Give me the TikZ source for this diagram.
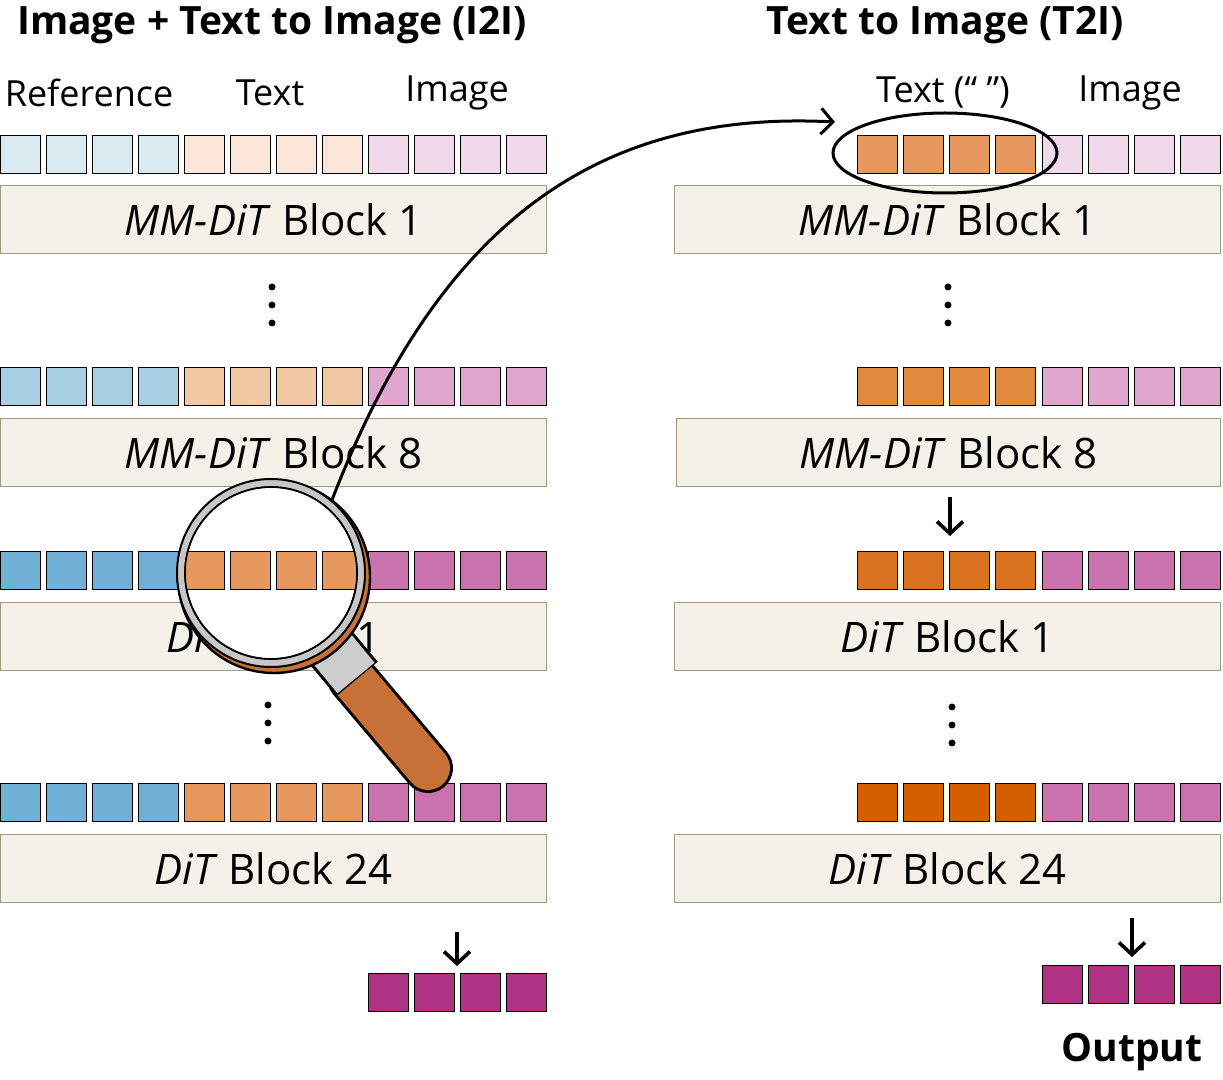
\documentclass[tikz,border=0pt]{standalone}
\usepackage{fontspec}
\setmainfont{Open Sans}
\usetikzlibrary{arrows.meta}

\definecolor{blueA}{HTML}{DAEAF1}
\definecolor{blueB}{HTML}{A8CEE3}
\definecolor{blueC}{HTML}{6FB0D4}
\definecolor{orgA}{HTML}{FAE5D8}
\definecolor{orgB}{HTML}{F1C7A4}
\definecolor{orgC}{HTML}{E6985E}
\definecolor{orgD}{HTML}{E0893F}
\definecolor{orgE}{HTML}{D9711F}
\definecolor{orgF}{HTML}{D45F00}
\definecolor{pinkA}{HTML}{F0D9EB}
\definecolor{pinkB}{HTML}{E0A6CE}
\definecolor{pinkC}{HTML}{CA72AE}
\definecolor{outc}{HTML}{AF3382}
\definecolor{blockfill}{HTML}{F3F1E8}
\definecolor{blockline}{HTML}{A09A80}
\definecolor{handle}{HTML}{C87137}

\tikzset{
  tok/.style={draw=black,line width=0.6pt,minimum width=20pt,minimum height=19pt,inner sep=0pt,anchor=north west},
  block/.style={draw=blockline,fill=blockfill,line width=0.6pt,minimum width=273pt,minimum height=34pt,inner sep=0pt,anchor=north west,font=\fontsize{21}{25}\selectfont},
  head/.style={font=\fontsize{19.5}{23}\selectfont\bfseries},
  lab/.style={font=\fontsize{18}{21}\selectfont},
  dot/.style={fill=black,circle,inner sep=0pt,minimum size=3.5pt},
  down/.style={-{Straight Barb[length=6pt,width=13pt]},line width=1.8pt}
}

\begin{document}
\begin{tikzpicture}[x=0.5pt,y=-0.5pt]
\useasboundingbox (0,0) rectangle (1223,1080);

% Headers and labels
\node[head] (hl) at (272,25) {Image + Text to Image (I2I)};
\node[head] (hr) at (945,25) {Text to Image (T2I)};
\node[lab] (lref) at (89,93) {Reference};
\node[lab] (ltxt) at (270,93) {Text};
\node[lab] (limg) at (457,93) {Image};
\node[lab] (rtxt) at (943,93) {Text (“ ”)};
\node[lab] (rimg) at (1130,93) {Image};

% Left token rows
\foreach \r/\y/\cb/\co/\cp in {1/135/blueA/orgA/pinkA,2/367/blueB/orgB/pinkB,3/551/blueC/orgC/pinkC,4/783/blueC/orgC/pinkC}{
  \foreach \i in {0,...,3}{
    \node[tok,fill=\cb] (lb\r\i) at ({46*\i},\y) {};
    \node[tok,fill=\co] (lo\r\i) at ({184+46*\i},\y) {};
    \node[tok,fill=\cp] (lp\r\i) at ({368+46*\i},\y) {};
  }
}
% Right token rows
\foreach \r/\y/\co/\cp in {1/135/orgC/pinkA,2/367/orgD/pinkB,3/551/orgE/pinkC,4/783/orgF/pinkC}{
  \foreach \i in {0,...,3}{
    \node[tok,fill=\co] (ro\r\i) at ({857+46*\i},\y) {};
    \node[tok,fill=\cp] (rp\r\i) at ({1042+46*\i},\y) {};
  }
}
% Outputs
\foreach \i in {0,...,3}{
  \node[tok,fill=outc] (lout\i) at ({368+46*\i},973) {};
  \node[tok,fill=outc] (rout\i) at ({1042+46*\i},965) {};
}

% Blocks
\node[block] (lblk1) at (0,185) {\textit{MM-DiT} Block 1};
\node[block] (lblk2) at (0,418) {\textit{MM-DiT} Block 8};
\node[block] (lblk3) at (0,602) {\textit{DiT} Block 1};
\node[block] (lblk4) at (0,834) {\textit{DiT} Block 24};
\node[block] (rblk1) at (674,185) {\textit{MM-DiT} Block 1};
\node[block,minimum width=272pt] (rblk2) at (676,418) {\textit{MM-DiT} Block 8};
\node[block] (rblk3) at (674,602) {\textit{DiT} Block 1};
\node[block] (rblk4) at (674,834) {\textit{DiT} Block 24};

% Dots
\foreach \x/\y in {272/287,268/705,948/287,952/707}{
  \foreach \k in {0,1,2}{
    \node[dot] at (\x,{\y+18*\k}) {};
  }
}

% Down arrows
\coordinate (ra1) at (950,497);
\coordinate (ra1e) at (950,536);
\coordinate (la2) at (457,932);
\coordinate (la2e) at (457,966);
\coordinate (ra2) at (1132,918);
\coordinate (ra2e) at (1132,957);
\draw[down] (ra1) -- (ra1e);
\draw[down] (la2) -- (la2e);
\draw[down] (ra2) -- (ra2e);

% Ellipse round text tokens
\draw[line width=1.5pt] (945,153) ellipse [x radius=56pt,y radius=20pt];

% Curve from lens
\coordinate (cs) at (332,500);
\coordinate (ce) at (835,122);
\draw[-{Straight Barb[length=6pt,width=13pt]},line width=1.5pt] (cs) .. controls (440,220) and (600,110) .. (ce);

% Magnifier
\draw[line width=25pt,line cap=round] (352,678) -- (428,768);
\draw[line width=22pt,line cap=round,handle] (352,678) -- (428,768);
\draw[line width=27pt,black] (327,643) -- (357,679);
\draw[line width=24pt,black!20] (328,644) -- (356,678);
\draw[line width=1.2pt,fill=handle] (274,577) circle [radius=48pt];
\draw[line width=1pt,fill=black!22] (271,573) circle [radius=47pt];
\draw[line width=0.8pt,fill=white] (271,573) circle [radius=43pt];
\begin{scope}
  \clip (271,573) circle [radius=43pt];
  \foreach \i in {0,...,3}{
    \node[tok,fill=orgC,draw=black] at ({184+46*\i},551) {};
  }
  \fill[blueC] (160,551) rectangle (178,589);
  \fill[pinkC] (368,551) rectangle (400,589);
\end{scope}
\draw[line width=0.8pt] (271,573) circle [radius=43pt];

% Output label
\node[head] (outl) at (1132,1052) {Output};
\end{tikzpicture}
\end{document}
